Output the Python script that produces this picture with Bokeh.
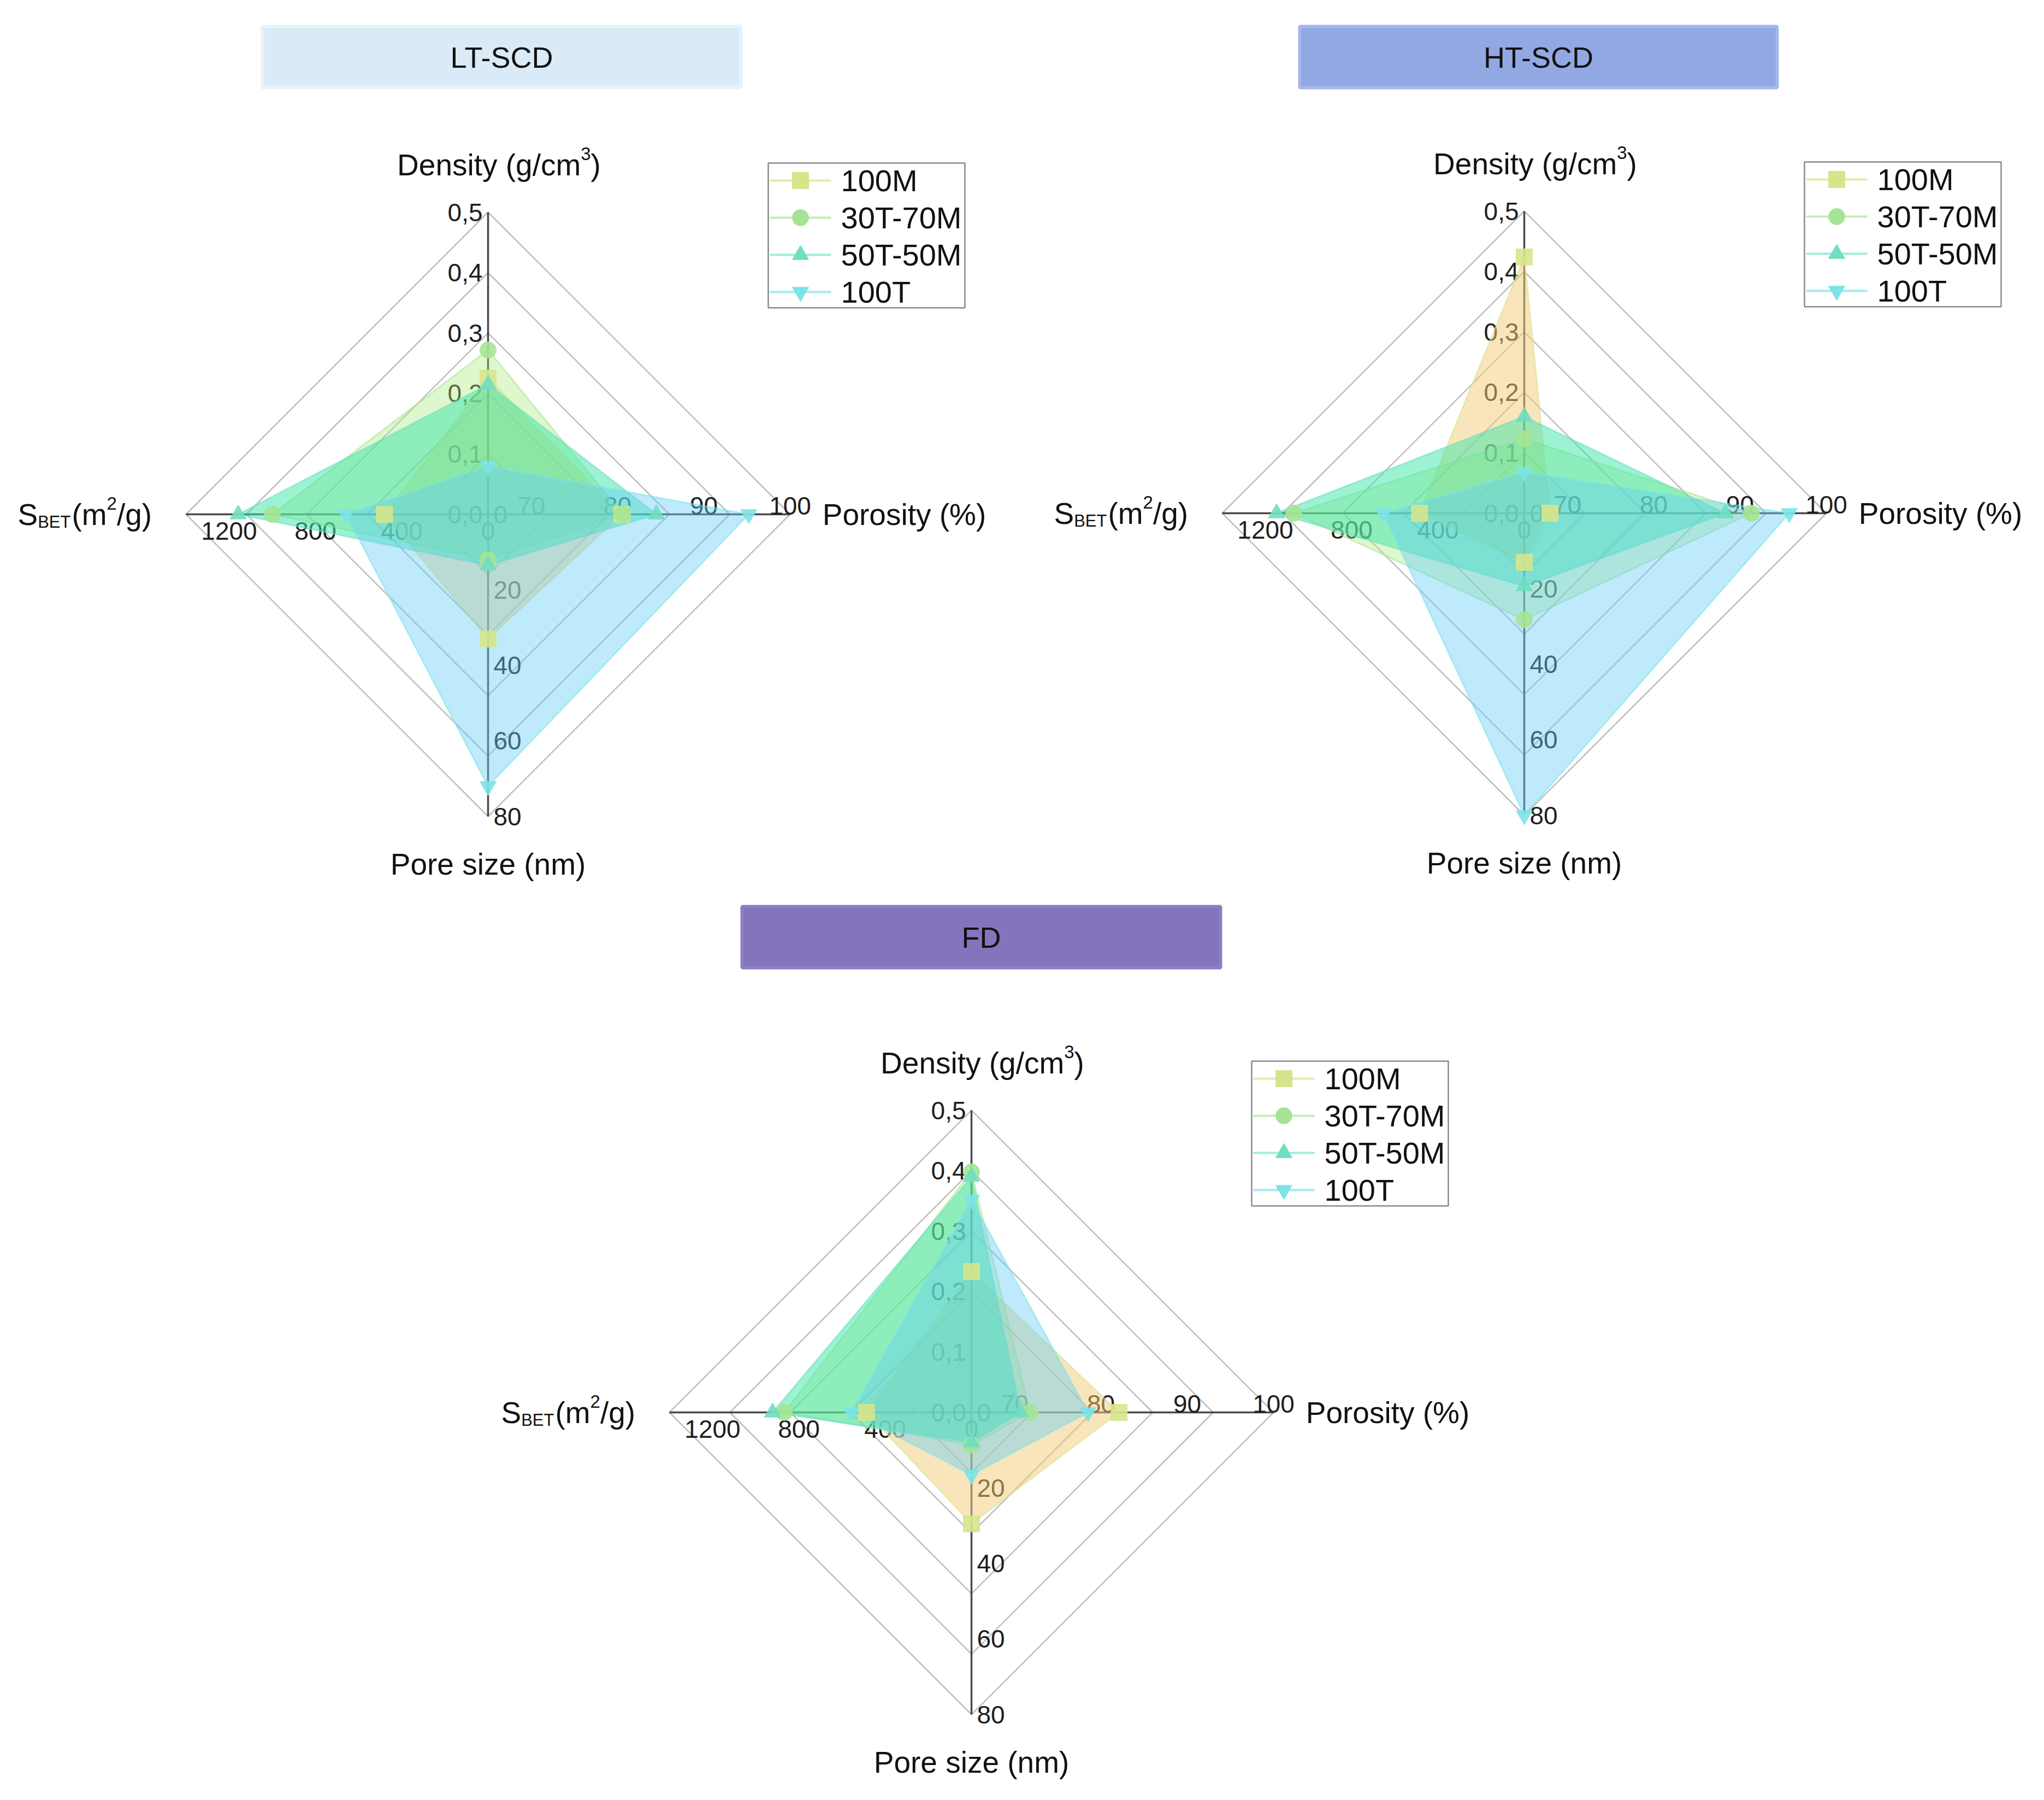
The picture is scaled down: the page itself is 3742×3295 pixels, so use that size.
from bokeh.plotting import figure
from bokeh.models import Range1d
from bokeh.core.properties import value
from bokeh.embed import file_html
from bokeh.resources import INLINE

# ---------------- data ----------------
samples = ["100M", "30T-70M", "50T-50M", "100T"]
marker_types = ["square", "circle", "triangle", "inverted_triangle"]
marker_colors = ["#D6E58C", "#A5E494", "#6FDEC2", "#7CE3E8"]
legend_line_colors = ["#E2ECA8", "#C2EEB2", "#9EEEDC", "#A2EAF2"]
fill_colors = ["#F2CC78", "#AAEB78", "#3CE6AA", "#64CDF5"]
fill_alphas = [0.5, 0.38, 0.5, 0.42]

density_range = [0.0, 0.5]
porosity_range = [65.0, 100.0]
pore_range = [0.0, 80.0]
sbet_range = [0.0, 1400.0]

density_ticks = [0.0, 0.1, 0.2, 0.3, 0.4, 0.5]
density_tick_labels = ["0,0", "0,1", "0,2", "0,3", "0,4", "0,5"]
porosity_ticks = [70, 80, 90, 100]
porosity_tick_labels = ["70", "80", "90", "100"]
pore_ticks = [0, 20, 40, 60, 80]
pore_tick_labels = ["0", "20", "40", "60", "80"]
sbet_ticks = [0, 400, 800, 1200]
sbet_tick_labels = ["0", "400", "800", "1200"]

panel_titles = ["LT-SCD", "HT-SCD", "FD"]
panel_title_colors = ["#DAEAF7", "#92A8E2", "#8474BC"]
panel_title_edges = ["#E6F3FB", "#A3B7EA", "#8E7FC4"]

# values per sample: [100M, 30T-70M, 50T-50M, 100T]
lt_density = [0.225, 0.272, 0.215, 0.080]
lt_porosity = [80.5, 80.6, 84.5, 95.2]
lt_pore = [33.0, 12.0, 13.5, 72.0]
lt_sbet = [480, 1000, 1158, 658]

ht_density = [0.424, 0.123, 0.160, 0.068]
ht_porosity = [68.0, 91.3, 88.3, 95.7]
ht_pore = [13.0, 28.2, 19.3, 80.0]
ht_sbet = [485, 1068, 1148, 653]

fd_density = [0.233, 0.398, 0.390, 0.352]
fd_porosity = [82.1, 71.8, 70.7, 78.5]
fd_pore = [29.5, 8.6, 7.9, 16.5]
fd_sbet = [487, 868, 922, 557]

# ---------------- layout ----------------
W, H = 3724, 3277
R = 553
FONT = value("Liberation Sans")
TS = 55      # axis title font size (px)
SS = 33      # super/subscript font size (px)

p = figure(width=W, height=H, output_backend="svg", toolbar_location=None,
           x_range=Range1d(0, W), y_range=Range1d(H, 0), min_border=0,
           background_fill_color="white", border_fill_color="white")
p.axis.visible = False
p.grid.visible = False
p.outline_line_color = None

panels = [
    dict(cx=893, cy=941, box=(480, 48, 1356, 160),
         data=(lt_density, lt_porosity, lt_pore, lt_sbet)),
    dict(cx=2790, cy=939, box=(2379, 48, 3253, 160),
         data=(ht_density, ht_porosity, ht_pore, ht_sbet)),
    dict(cx=1778, cy=2585, box=(1358, 1659, 2234, 1771),
         data=(fd_density, fd_porosity, fd_pore, fd_sbet)),
]


def frac(v, rng):
    return (v - rng[0]) / (rng[1] - rng[0])


def txt(x, y, s, size, align="left", baseline="alphabetic"):
    p.text(x=[x], y=[y], text=[s], text_align=align, text_baseline=baseline,
           text_font=FONT, text_font_size=value(f"{size}px"), text_color="#111111")


for k, pan in enumerate(panels):
    cx, cy = pan["cx"], pan["cy"]
    l, t, r, b = pan["box"]
    # title box
    p.quad(left=[l], right=[r], top=[t], bottom=[b],
           fill_color=panel_title_colors[k], line_color=panel_title_edges[k], line_width=6)
    txt((l + r) / 2, (t + b) / 2, panel_titles[k], 54, "center", "middle")

    # grid diamonds
    for i in range(1, 6):
        rr = R * i / 5
        p.line([cx, cx + rr, cx, cx - rr, cx], [cy - rr, cy, cy + rr, cy, cy - rr],
               line_color="#BEBEBE", line_width=2.5)
    # axes
    p.line([cx - R, cx + R], [cy, cy], line_color="#4A4A4A", line_width=3.5)
    p.line([cx, cx], [cy - R, cy + R], line_color="#4A4A4A", line_width=3.5)

    # tick labels
    tick_kw = dict(text_font=FONT, text_font_size=value("46px"), text_color="#1E1E1E")
    p.text(x=[cx - 10] * len(density_ticks),
           y=[cy - frac(v, density_range) * R for v in density_ticks],
           text=density_tick_labels, text_align="right", text_baseline="middle", **tick_kw)
    p.text(x=[cx + 10] * len(pore_ticks),
           y=[cy + frac(v, pore_range) * R for v in pore_ticks],
           text=pore_tick_labels, text_align="left", text_baseline="middle", **tick_kw)
    p.text(x=[cx + frac(v, porosity_range) * R for v in porosity_ticks],
           y=[cy - 16] * len(porosity_ticks),
           text=porosity_tick_labels, text_align="center", text_baseline="alphabetic", **tick_kw)
    p.text(x=[cx - frac(v, sbet_range) * R for v in sbet_ticks],
           y=[cy + 14] * len(sbet_ticks),
           text=sbet_tick_labels, text_align="center", text_baseline="top", **tick_kw)

    # axis titles
    # Density (g/cm^3) with raised 3
    w1 = 6.112 * TS
    w2 = 0.556 * SS
    w3 = 0.333 * TS
    dx0 = cx + 20 - (w1 + w2 + w3) / 2
    dy = cy - 640
    txt(dx0, dy, "Density (g/cm", TS, "left", "middle")
    txt(dx0 + w1, dy - 20, "3", SS, "left", "middle")
    txt(dx0 + w1 + w2, dy, ")", TS, "left", "middle")

    txt(cx + 762, cy, "Porosity (%)", TS, "center", "middle")
    txt(cx, cy + 640, "Pore size (nm)", TS, "center", "middle")

    # S_BET (m^2/g)
    sx0 = cx - 737 - 124
    sy = cy
    txt(sx0, sy, "S", TS, "left", "middle")
    xb = sx0 + 0.667 * TS
    txt(xb, sy + 14, "BET", SS - 2, "left", "middle")
    xm = xb + 1.945 * (SS - 2) + 2
    txt(xm, sy, "(m", TS, "left", "middle")
    xm2 = xm + 1.166 * TS
    txt(xm2, sy - 20, "2", SS, "left", "middle")
    txt(xm2 + 0.556 * SS, sy, "/g)", TS, "left", "middle")

    # polygons
    dens, poro, pore, sbet = pan["data"]
    pts = []
    for s in range(len(samples)):
        xs = [cx, cx + frac(poro[s], porosity_range) * R, cx, cx - frac(sbet[s], sbet_range) * R]
        ys = [cy - frac(dens[s], density_range) * R, cy, cy + frac(pore[s], pore_range) * R, cy]
        pts.append((xs, ys))
        p.patch(xs, ys, fill_color=fill_colors[s], fill_alpha=fill_alphas[s],
                line_color=marker_colors[s], line_alpha=0.55, line_width=3)
    for s in range(len(samples)):
        xs, ys = pts[s]
        p.scatter(xs, ys, marker=marker_types[s], size=30, fill_color=marker_colors[s],
                  line_color=marker_colors[s], fill_alpha=0.9, line_alpha=0.9)

    # legend
    p.quad(left=[cx + 513], right=[cx + 873], top=[cy - 643], bottom=[cy - 378],
           fill_color="white", line_color="#8A8A8A", line_width=2.5)
    for s in range(len(samples)):
        yy = cy - 611 + 68 * s
        p.line([cx + 516, cx + 628], [yy, yy], line_color=legend_line_colors[s], line_width=4)
        p.scatter([cx + 572], [yy], marker=marker_types[s], size=30,
                  fill_color=marker_colors[s], line_color=marker_colors[s])
        txt(cx + 646, yy, samples[s], 56, "left", "middle")

open("out.html", "w").write(file_html(p, INLINE))
